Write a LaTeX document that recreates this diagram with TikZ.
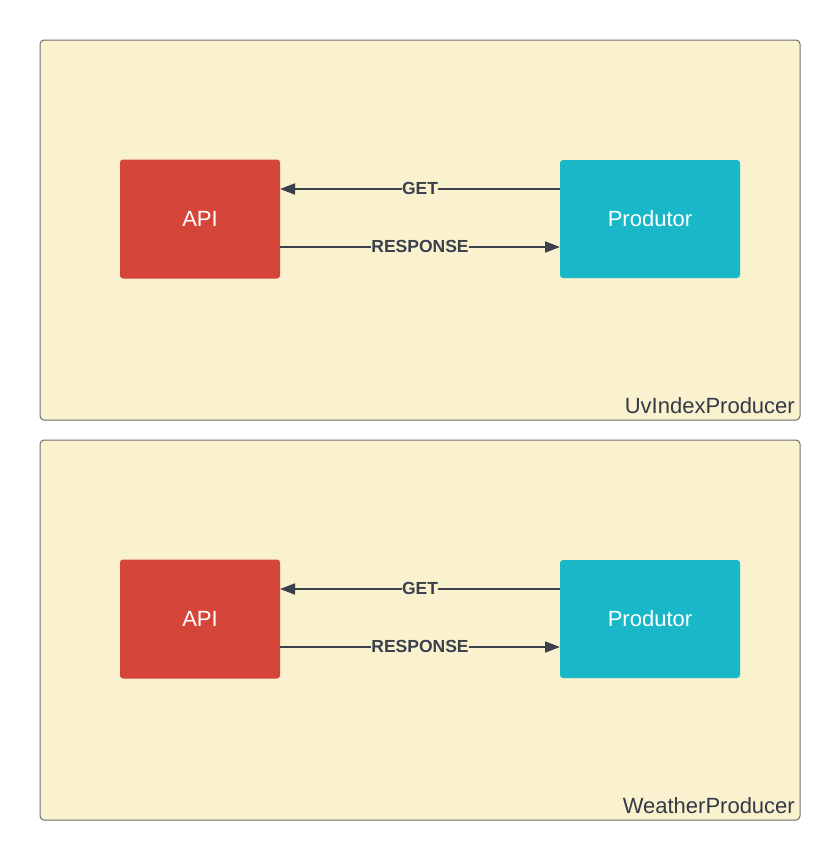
\documentclass[tikz,border=0pt]{standalone}
\usepackage{fontspec}
\setmainfont{Liberation Sans}
\usetikzlibrary{arrows.meta}
\definecolor{bgc}{HTML}{FAF1CE}
\definecolor{framec}{HTML}{6E6E6E}
\definecolor{apic}{HTML}{D5453A}
\definecolor{prodc}{HTML}{19B8C8}
\definecolor{linec}{HTML}{3A414C}
\definecolor{txtc}{HTML}{333A45}
\tikzset{
  container/.style={draw=framec, fill=bgc, line width=1pt, rounded corners=4pt},
  apibox/.style={fill=apic, rounded corners=3pt, minimum width=160pt, minimum height=119pt, text=white, font=\fontsize{22}{26}\selectfont, inner sep=0pt},
  prodbox/.style={fill=prodc, rounded corners=3pt, minimum width=180pt, minimum height=118pt, text=white, font=\fontsize{22}{26}\selectfont, inner sep=0pt},
  conn/.style={draw=linec, line width=1.8pt, -{Triangle[length=15pt,width=11pt]}},
  elabel/.style={fill=bgc, inner sep=0.5pt, text=linec, font=\bfseries\fontsize{17.5}{20}\selectfont, yshift=1pt},
  ctitle/.style={anchor=base east, text=txtc, font=\fontsize{22}{26}\selectfont, inner sep=0pt}
}
\begin{document}
\begin{tikzpicture}[x=1pt,y=-1pt]
\useasboundingbox (0,0) rectangle (840,860);
% container 1
\draw[container] (40,40) rectangle (800,420);
\node[ctitle] (t1) at (795,413) {UvIndexProducer};
\node[apibox] (api1) at (200,219) {API};
\node[prodbox] (prod1) at (650,219) {Produtor};
\coordinate (g1s) at (560,189);
\coordinate (g1e) at (280,189);
\coordinate (r1s) at (280,247);
\coordinate (r1e) at (560,247);
\draw[conn] (g1s) -- node[elabel] (gl1) {GET} (g1e);
\draw[conn] (r1s) -- node[elabel] (rl1) {RESPONSE} (r1e);
% container 2
\draw[container] (40,440) rectangle (800,820);
\node[ctitle] (t2) at (795,813) {WeatherProducer};
\node[apibox] (api2) at (200,619) {API};
\node[prodbox] (prod2) at (650,619) {Produtor};
\coordinate (g2s) at (560,589);
\coordinate (g2e) at (280,589);
\coordinate (r2s) at (280,647);
\coordinate (r2e) at (560,647);
\draw[conn] (g2s) -- node[elabel] (gl2) {GET} (g2e);
\draw[conn] (r2s) -- node[elabel] (rl2) {RESPONSE} (r2e);
\end{tikzpicture}
\end{document}
